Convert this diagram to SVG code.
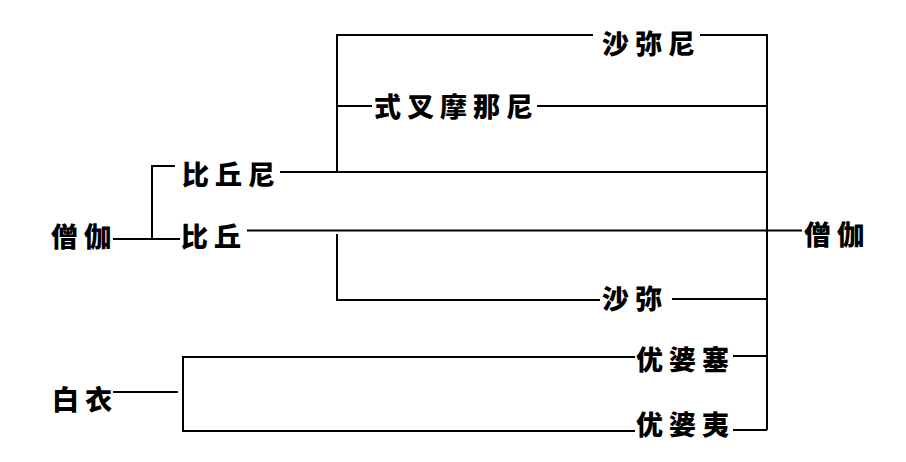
<svg xmlns="http://www.w3.org/2000/svg" width="906" height="462" viewBox="0 0 906 462">
<style>
.t{font-family:"Noto Sans CJK SC","Noto Sans CJK TC",sans-serif;font-size:27px;font-weight:900;letter-spacing:6px;fill:#000;dominant-baseline:central}
.c{stroke:#000;stroke-width:2;fill:none}
</style>
<rect width="906" height="462" fill="#fff"/>
<g id="connectors" class="c">
<polyline points="593,35 337,35 337,172"/>
<polyline points="700,35 767,35 767,430"/>
<line x1="337" y1="106" x2="372" y2="106"/>
<line x1="537" y1="106" x2="767" y2="106"/>
<line x1="280" y1="172" x2="767" y2="172"/>
<polyline points="175,166 152,166 152,239"/>
<line x1="113" y1="239" x2="180" y2="239"/>
<line x1="247" y1="230.5" x2="802" y2="230.5"/>
<polyline points="337,234 337,300 600,300"/>
<line x1="672" y1="299" x2="767" y2="299"/>
<line x1="113" y1="392" x2="178" y2="392"/>
<polyline points="635,357 183,357 183,431 635,431"/>
<line x1="733" y1="356" x2="767" y2="356"/>
<line x1="733" y1="430" x2="767" y2="430"/>
</g>
<g id="shamini"><text class="t" x="602" y="42">沙弥尼</text></g>
<g id="shikshamana"><text class="t" x="374" y="105">式叉摩那尼</text></g>
<g id="bhikkhuni"><text class="t" x="182" y="173">比丘尼</text></g>
<g id="sangha-left"><text class="t" x="51" y="235">僧伽</text></g>
<g id="bhikkhu"><text class="t" x="181" y="235">比丘</text></g>
<g id="sangha-right"><text class="t" x="804" y="233">僧伽</text></g>
<g id="shami"><text class="t" x="602" y="297">沙弥</text></g>
<g id="upasaka"><text class="t" x="636" y="358">优婆塞</text></g>
<g id="baiyi"><text class="t" x="52" y="398">白衣</text></g>
<g id="upasika"><text class="t" x="636" y="423">优婆夷</text></g>
</svg>
